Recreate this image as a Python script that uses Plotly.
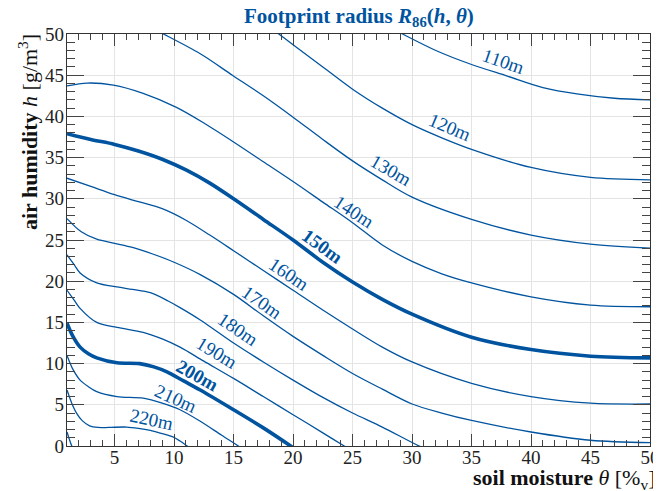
import math
import plotly.graph_objects as go

# ---- data (theta [%v], h [g/m^3]) ----
levels = [110, 120, 130, 140, 150, 160, 170, 180, 190, 200, 210, 220, 230]

r110_theta = [27.8, 29.2, 32, 35, 38, 41, 44, 47, 50]
r110_h     = [51.0, 50.0, 48.0, 46.3, 44.9, 43.5, 42.7, 42.2, 42.0]

r120_theta = [17.5, 18.8, 20, 22.5, 25, 27.5, 30, 32.5, 35, 40, 45, 50]
r120_h     = [51.3, 50.0, 48.7, 46.0, 43.3, 41.0, 39.0, 37.4, 36.0, 33.8, 32.6, 32.3]

r130_theta = [8, 9.1, 12.2, 14.9, 17.5, 20, 22.5, 25, 27.5, 30, 35, 40, 45, 50]
r130_h     = [50.8, 50.0, 47.6, 45.0, 42.5, 39.9, 37.2, 34.6, 32.3, 30.2, 27.5, 25.6, 24.5, 24.0]

r140_theta = [1, 2.7, 4.9, 7.4, 10.2, 12.5, 15, 17.5, 20, 22.5, 25, 27.5, 30, 32.5, 35, 40, 45, 50]
r140_h     = [43.7, 44.05, 43.8, 42.8, 41.1, 39.2, 36.9, 34.5, 32.1, 29.6, 27.1, 24.4, 22.4, 20.9, 19.8, 18.1, 17.1, 16.9]

r150_theta = [1, 3, 5, 7, 9, 11, 13, 15, 17.5, 20, 22.5, 25, 27.5, 30, 35, 40, 45, 50]
r150_h     = [37.9, 37.2, 36.6, 35.8, 34.8, 33.5, 31.9, 30.0, 27.5, 25.0, 22.3, 19.9, 17.8, 16.0, 13.2, 11.7, 10.9, 10.7]

r160_theta = [1, 3, 5, 7, 9, 11, 13, 15, 17.5, 20, 22.5, 25, 27.5, 30, 35, 40, 45, 50]
r160_h     = [32.5, 31.5, 30.5, 29.65, 28.8, 27.4, 25.6, 23.7, 21.3, 18.9, 16.5, 14.2, 12.0, 10.2, 7.6, 6.0, 5.2, 5.1]

r170_theta = [1, 2.2, 3.5, 5, 6.5, 8.2, 10, 12.2, 15, 17.5, 20, 22.5, 25, 27.5, 30, 32.5, 35, 40, 45, 50]
r170_h     = [27.6, 26.0, 25.1, 24.6, 24.1, 23.3, 22.3, 20.8, 18.4, 15.8, 13.3, 11.0, 8.8, 6.9, 5.1, 4.0, 3.1, 1.7, 0.7, 0.4]

r180_theta = [1, 1.6, 2.1, 3.5, 5.2, 6.5, 8, 9.5, 10.5, 12.2, 15, 17.5, 20, 22.5, 25, 27.5, 30.6, 31.5]
r180_h     = [23.2, 22.0, 21.0, 19.8, 19.3, 19.0, 18.6, 17.6, 16.8, 15.3, 12.5, 10.2, 8.0, 5.9, 4.0, 2.3, 0.0, -0.5]

r190_theta = [1, 1.6, 2.1, 3.5, 5.2, 7.4, 9, 10.5, 12.5, 15, 17.5, 20, 22.5, 24.3, 25]
r190_h     = [18.9, 17.7, 16.7, 15.0, 14.4, 13.8, 13.0, 12.0, 10.3, 8.2, 6.0, 3.8, 1.6, 0.0, -0.6]

r200_theta = [1, 1.5, 2.1, 2.8, 3.5, 5.2, 7.1, 8.3, 9.4, 10.8, 12.2, 15, 17.5, 19.8, 20.5]
r200_h     = [14.9, 13.3, 12.0, 11.2, 10.7, 10.1, 10.0, 9.6, 9.0, 7.9, 6.8, 4.4, 2.2, 0.0, -0.7]

r210_theta = [1, 1.5, 2.1, 2.8, 3.5, 5.2, 7.4, 9, 10.5, 12.2, 14, 15.4, 16]
r210_h     = [11.0, 9.3, 8.0, 7.2, 6.6, 6.0, 5.8, 5.2, 4.4, 3.0, 1.3, 0.0, -0.6]

r220_theta = [1, 1.4, 1.8, 2.3, 2.9, 3.6, 4.5, 6, 7, 8, 9, 9.9, 10.5, 11.1, 11.5]
r220_h     = [6.8, 5.2, 4.0, 3.05, 2.45, 2.25, 2.25, 2.3, 2.15, 1.9, 1.5, 1.1, 0.6, 0.0, -0.4]

r230_theta = [1, 1.2, 1.4, 1.6]
r230_h     = [1.7, 0.8, 0.0, -0.6]

curves = [
    (r110_theta, r110_h), (r120_theta, r120_h), (r130_theta, r130_h),
    (r140_theta, r140_h), (r150_theta, r150_h), (r160_theta, r160_h),
    (r170_theta, r170_h), (r180_theta, r180_h), (r190_theta, r190_h),
    (r200_theta, r200_h), (r210_theta, r210_h), (r220_theta, r220_h),
    (r230_theta, r230_h),
]
bold_levels = [150, 200]

label_text = ["110m", "120m", "130m", "140m", "150m", "160m", "170m",
              "180m", "190m", "200m", "210m", "220m"]
# label placement (theta, h, angle) -- layout, not data
label_pos = [(37.6, 46.2, 19), (33.1, 38.2, 23), (28.1, 33.0, 30), (24.9, 28.0, 33),
             (22.3, 23.8, 36), (19.5, 20.4, 34), (17.2, 17.0, 35), (15.2, 13.7, 34),
             (13.4, 10.9, 31), (11.8, 8.1, 29), (10.0, 5.3, 24), (8.1, 2.8, 12)]
LABEL_LIFT = 4  # px, perpendicular to the line

x_ticks = [5, 10, 15, 20, 25, 30, 35, 40, 45, 50]
y_ticks = [0, 5, 10, 15, 20, 25, 30, 35, 40, 45, 50]

BLUE = "#00549F"
FONT = "Liberation Serif"

fig = go.Figure()
for lev, (tx, hy) in zip(levels, curves):
    fig.add_trace(go.Scatter(
        x=tx, y=hy, mode="lines",
        line=dict(color=BLUE, width=3.6 if lev in bold_levels else 1.3,
                  shape="spline", smoothing=0.9),
        hoverinfo="skip", showlegend=False))

for txt, (lx, ly, ang) in zip(label_text, label_pos):
    bold = int(txt[:-1]) in bold_levels
    a = math.radians(ang)
    fig.add_annotation(x=lx, y=ly, xref="x", yref="y",
                       xshift=LABEL_LIFT * math.sin(a), yshift=LABEL_LIFT * math.cos(a),
                       text=f"<b>{txt}</b>" if bold else txt,
                       textangle=ang, showarrow=False,
                       font=dict(family=FONT, size=19, color=BLUE))

axis_common = dict(
    showline=True, linecolor="#333333", linewidth=1.3, mirror="ticks",
    ticks="inside", tickcolor="#444444", tickwidth=1, automargin=False,
    showgrid=True, gridcolor="#e4e4e4", gridwidth=1, zeroline=False,
    tickfont=dict(family=FONT, size=19, color="#222222"),
)

fig.update_xaxes(range=[1, 50], tickvals=x_ticks, ticklen=12, ticklabelstandoff=-6,
                 ticklabeloverflow="allow",
                 minor=dict(dtick=1, tick0=0, ticks="inside", ticklen=6,
                            tickcolor="#444444", showgrid=False),
                 **axis_common)
fig.update_yaxes(range=[0, 50], tickvals=y_ticks, ticklen=17, ticklabelstandoff=-2,
                 minor=dict(dtick=1, tick0=0, ticks="inside", ticklen=8,
                            tickcolor="#444444", showgrid=False),
                 **axis_common)

fig.add_annotation(xref="paper", yref="paper", x=0.5, y=1.0, yshift=17,
                   yanchor="middle", xanchor="center", showarrow=False,
                   text="<b>Footprint radius <i>R</i><sub>86</sub>(<i>h</i>, <i>θ</i>)</b>",
                   font=dict(family=FONT, size=21, color=BLUE))
fig.add_annotation(xref="paper", yref="paper", x=1.0, xshift=7, y=0, yshift=-33,
                   xanchor="right", yanchor="middle", showarrow=False,
                   text="<b>soil moisture</b> <i>θ</i> [%<sub>v</sub>]",
                   font=dict(family=FONT, size=22, color="#111111"))
fig.add_annotation(xref="paper", yref="paper", x=0, xshift=-39, y=1.0, yshift=2,
                   xanchor="center", yanchor="top", textangle=-90, showarrow=False,
                   text="<b>air humidity</b> <i>h</i> [g/m<sup>3</sup>]",
                   font=dict(family=FONT, size=22, color="#111111"))

# the page body adds an 8px offset; margins are set so the plot lands at the
# reference position inside the 661x491 window
fig.update_layout(width=661, height=491,
                  margin=dict(l=59, r=19, t=26, b=53, autoexpand=False),
                  plot_bgcolor="white", paper_bgcolor="white")

fig.write_html("out.html")
